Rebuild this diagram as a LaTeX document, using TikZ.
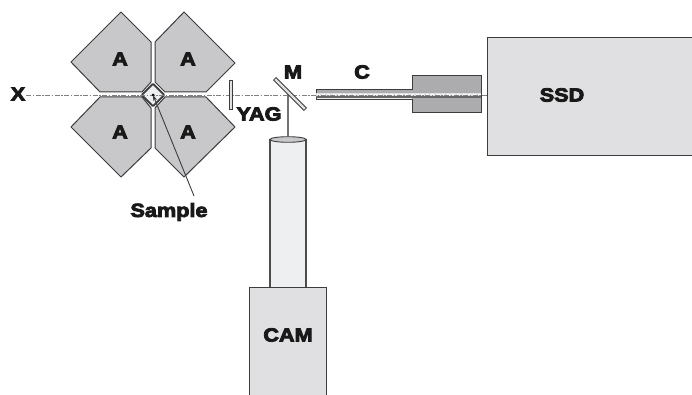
\documentclass[tikz,border=0pt]{standalone}
\usepackage{fontspec}
\setmainfont{Liberation Sans}[BoldFeatures={FakeBold=4.5,FakeStretch=1.14}]
\usetikzlibrary{arrows.meta, positioning, calc}
\definecolor{quadgray}{RGB}{200,200,202}
\definecolor{lightbox}{RGB}{224,224,226}
\definecolor{tubegray}{RGB}{238,239,241}
\definecolor{conegray}{RGB}{172,172,175}
\definecolor{edgedark}{RGB}{60,60,62}
\begin{document}
\begin{tikzpicture}[
  x=1pt, y=-1pt,
  tag/.style={font=\bfseries\fontsize{19}{19}\selectfont, text=black!90, inner sep=0pt},
  quad/.style={draw=edgedark, fill=quadgray, line width=1pt, line join=round},
  part/.style={draw=edgedark, fill=lightbox, line width=1pt},
  beam/.style={draw=black!50, line width=0.9pt, dash pattern=on 5pt off 1.5pt on 1.5pt off 1.5pt},
]
  \useasboundingbox (0,0) rectangle (692,395);

  % Quadrupole
  \draw[quad] (121,12) -- (151,42) -- (151,82) -- (142,92) -- (100,92) -- (71,62) -- cycle;
  \draw[quad] (184,12) -- (155,42) -- (155,82) -- (165,92) -- (206,92) -- (235,63) -- cycle;
  \draw[quad] (100,97) -- (71,127) -- (121,177) -- (151,148) -- (151,108) -- (142,97) -- cycle;
  \draw[quad] (206,97) -- (235,127) -- (184,177) -- (155,148) -- (155,108) -- (165,97) -- cycle;
  \node[draw=black!75, fill=tubegray, line width=2pt, rounded corners=1pt, minimum size=16pt, inner sep=0pt, rotate=45] (S) at (153,95) {};

  % Detector side
  \draw[part] (487,38) rectangle (692,156);
  \draw[part, fill=conegray] (316,89.5) -- (412.5,89.5) -- (412.5,75.5) -- (481,75.5) -- (481,113) -- (412.5,113) -- (412.5,99.5) -- (316,99.5) -- cycle;
  \fill[tubegray] (316.5,97) rectangle (412,99);
  \fill[lightbox] (316,93) rectangle (481,96.5);
  \draw[black!60, line width=1.2pt] (316,97) -- (481,97);
  \draw[white, line width=1.4pt, dash pattern=on 3pt off 2.2pt] (317,94.7) -- (481,94.7);

  % Camera
  \coordinate (tubetop) at (288,136.5);
  \fill[tubegray] (270,139) rectangle (306,287);
  \draw[draw=black!70, line width=1.2pt] (270,139) -- (270,287) (306,139) -- (306,287);
  \draw[part, fill=quadgray, line width=0.9pt] (288,139.5) ellipse (18pt and 2.8pt);
  \fill[lightbox] (249,287) rectangle (326,395);
  \draw[part] (249,395) -- (249,287) -- (326,287) -- (326,395);
  \coordinate (mirrorpt) at (288,94);
  \draw[draw=black!55, line width=1.5pt] (mirrorpt) -- (tubetop);

  % Beam and plates
  \draw[beam] (26,95) -- (487,95);
  \node[draw=edgedark, fill=lightbox, line width=0.8pt, minimum width=3pt, minimum height=29pt, inner sep=0pt] (Y) at (231,94.5) {};
  \node[draw=edgedark, fill=lightbox, line width=0.8pt, minimum width=3.5pt, minimum height=43pt, inner sep=0pt, rotate=45] (M) at (290,94) {};
  \fill[black] (S.center) circle (1.5pt);

  % Labels
  \node[tag] (AUL) at (120,59) {A};
  \node[tag] (AUR) at (188,59) {A};
  \node[tag] (ALL) at (120,132) {A};
  \node[tag] (ALR) at (188,132) {A};
  \node[tag] (X) at (18,94) {X};
  \node[tag] (YAG) at (259,114) {YAG};
  \node[tag] (ML) at (293,72) {M};
  \node[tag] (CL) at (362,72) {C};
  \node[tag] (SSD) at (562,95) {SSD};
  \node[tag] (CAM) at (288,335) {CAM};
  \node[tag] (SL) at (169,212) {Sample};

  % Pointer
  \coordinate (ptail) at (194,196);
  \draw[draw=edgedark, line width=0.9pt, -{Stealth[length=6pt, width=4pt]}] (ptail) -- (S.center);
\end{tikzpicture}
\end{document}
